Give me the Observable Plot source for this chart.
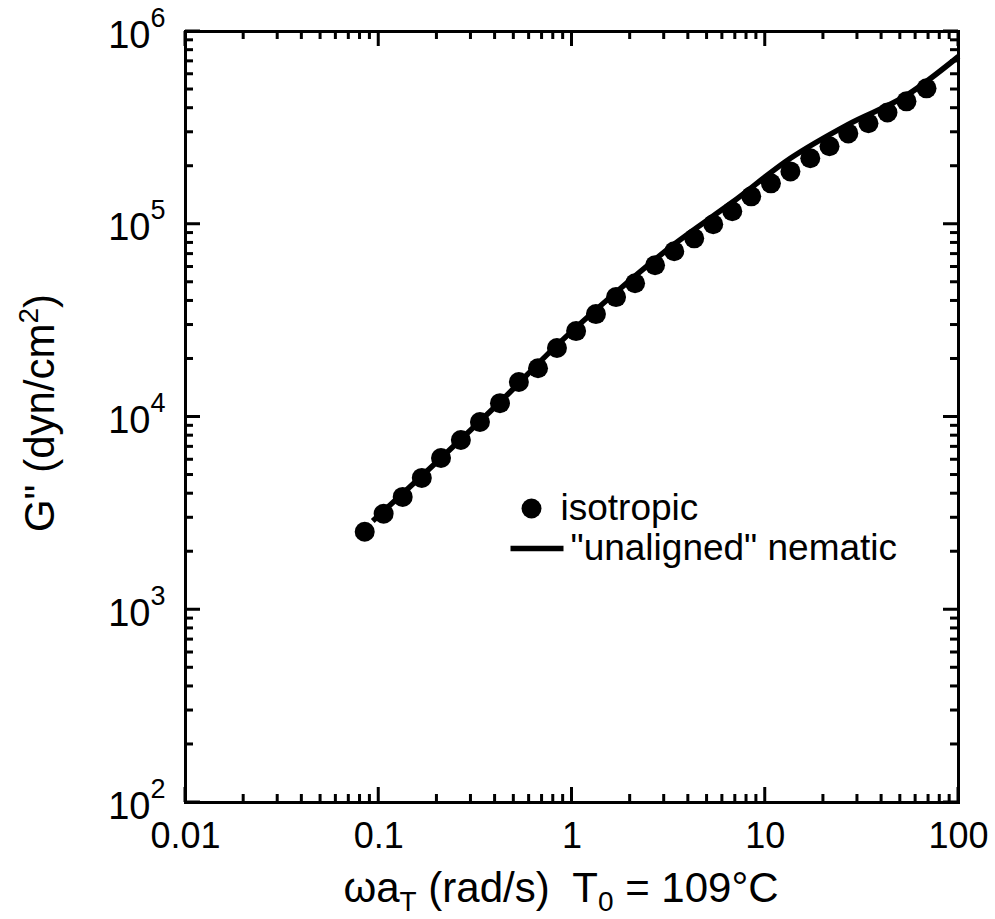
<!DOCTYPE html>
<html>
<head>
<meta charset="utf-8">
<style>
  html, body { margin: 0; padding: 0; background: #fff; }
  #chart { width: 995px; height: 919px; }
</style>
<script src="https://cdn.jsdelivr.net/npm/d3@7"></script>
<script src="https://cdn.jsdelivr.net/npm/@observablehq/plot@0.6"></script>
</head>
<body>
<div id="chart"></div>
<script>
// ---- data ----
const isoFreq = [0.0846, 0.106, 0.133, 0.167, 0.210, 0.266, 0.334, 0.424, 0.531, 0.667,
                 0.836, 1.05, 1.33, 1.69, 2.12, 2.69, 3.38, 4.29, 5.38, 6.75,
                 8.46, 10.7, 13.5, 17.1, 21.5, 26.9, 34.2, 42.9, 53.8, 68.3];
const isoGpp  = [2540, 3150, 3850, 4830, 6130, 7600, 9420, 11800, 15200, 17900,
                 22800, 27900, 34200, 41900, 49400, 61300, 72400, 84500, 100000, 116800,
                 139600, 163000, 188000, 220000, 254000, 296000, 334000, 380000, 434000, 507000];
const nemFreq = [0.0931, 0.210, 0.424, 0.836, 1.69, 3.38, 6.75, 13.5, 26.9, 53.8, 100];
const nemGpp  = [2890, 6130, 11960, 23600, 44400, 78800, 130000, 220000, 330000, 466000, 742000];

const xTickValues = [0.01, 0.1, 1, 10, 100];
const xTickLabels = ["0.01", "0.1", "1", "10", "100"];
const yTickValues = [1e2, 1e3, 1e4, 1e5, 1e6];
const yTickExponents = ["2", "3", "4", "5", "6"];
const legendLabels = ["isotropic", "\"unaligned\" nematic"];

(() => {
  const isoData = isoFreq.map((f, i) => ({f, g: isoGpp[i]}));
  const nemData = nemFreq.map((f, i) => ({f, g: nemGpp[i]}));
  const minorOf = (majors) => majors.slice(0, -1).flatMap(m => d3.range(2, 10).map(k => k * m));
  const xMinor = minorOf(xTickValues);
  const yMinor = minorOf(yTickValues);

  const FONT = "'Liberation Sans', Arial, Helvetica, sans-serif";
  const W = 995, H = 919;
  const mL = 185, mR = 37, mT = 31, mB = 117;
  const PW = W - mL - mR, PH = H - mT - mB;
  const TW = 1.5; // half tick thickness

  // inward ticks on all four sides, drawn as thin filled rects through the scales
  const xTicksOf = (values, len) => [
    Plot.rect(values, { x1: d => d, x2: d => d, insetLeft: -TW, insetRight: -TW, insetTop: PH - len, fill: "black" }),
    Plot.rect(values, { x1: d => d, x2: d => d, insetLeft: -TW, insetRight: -TW, insetBottom: PH - len, fill: "black" })
  ];
  const yTicksOf = (values, len) => [
    Plot.rect(values, { y1: d => d, y2: d => d, insetTop: -TW, insetBottom: -TW, insetRight: PW - len, fill: "black" }),
    Plot.rect(values, { y1: d => d, y2: d => d, insetTop: -TW, insetBottom: -TW, insetLeft: PW - len, fill: "black" })
  ];
  const legendLine = { draw(ctx, l) { ctx.moveTo(0, 0); ctx.lineTo(0, -l); } };

  const svg = Plot.plot({
    width: W, height: H,
    marginLeft: mL, marginRight: mR, marginTop: mT, marginBottom: mB,
    style: { fontFamily: FONT, background: "white", color: "black" },
    x: { type: "log", domain: [0.01, 100], axis: null },
    y: { type: "log", domain: [1e2, 1e6], axis: null },
    marks: [
      // data
      Plot.line(nemData, { x: "f", y: "g", stroke: "black", strokeWidth: 5.5, strokeLinejoin: "round", strokeLinecap: "butt", curve: "monotone-x" }),
      Plot.dot(isoData, { x: "f", y: "g", r: 10, fill: "black", stroke: "none" }),
      // ticks and frame
      ...xTicksOf(xTickValues, 15), ...xTicksOf(xMinor, 8),
      ...yTicksOf(yTickValues, 15), ...yTicksOf(yMinor, 8),
      Plot.frame({ stroke: "black", strokeWidth: 3 }),
      // tick labels
      Plot.text(xTickValues, { x: d => d, frameAnchor: "bottom", text: (d, i) => xTickLabels[i],
        lineAnchor: "bottom", dy: 45, fontSize: 36, fill: "black", textAnchor: "middle" }),
      Plot.text(yTickValues, { y: d => d, frameAnchor: "left", text: () => "10",
        lineAnchor: "bottom", textAnchor: "end", dx: -35, dy: 16, fontSize: 38, fill: "black" }),
      Plot.text(yTickValues, { y: d => d, frameAnchor: "left", text: (d, i) => yTickExponents[i],
        lineAnchor: "bottom", textAnchor: "start", dx: -35, dy: -5, fontSize: 27, fill: "black" }),
      // legend
      Plot.dot([legendLabels[0]], { frameAnchor: "top-left", dx: 531 - mL, dy: 508 - mT, r: 10, fill: "black", stroke: "none" }),
      Plot.text([legendLabels[0]], { frameAnchor: "top-left", text: d => d, dx: 560 - mL, dy: 508 - mT,
        textAnchor: "start", lineAnchor: "middle", fontSize: 37, fill: "black" }),
      Plot.vector([legendLabels[1]], { frameAnchor: "top-left", dx: 510 - mL, dy: 548 - mT, length: 53, rotate: 90,
        anchor: "start", shape: legendLine, stroke: "black", strokeWidth: 5.5, strokeLinecap: "butt" }),
      Plot.text([legendLabels[1]], { frameAnchor: "top-left", text: d => d, dx: 570 - mL, dy: 548 - mT,
        textAnchor: "start", lineAnchor: "middle", fontSize: 37, fill: "black" })
    ]
  });

  document.getElementById("chart").appendChild(svg);

  // axis titles with sub/superscripts
  const s = d3.select(svg);
  const xt = s.append("text")
    .attr("x", 561).attr("y", 902)
    .attr("text-anchor", "middle").attr("font-size", 42).attr("font-family", FONT).attr("fill", "black")
    .style("white-space", "pre");
  xt.append("tspan").text("\u03c9a");
  xt.append("tspan").attr("font-size", 28).attr("dy", 9).text("T");
  xt.append("tspan").attr("dy", -9).text(" (rad/s)  T");
  xt.append("tspan").attr("font-size", 28).attr("dy", 9).text("0");
  xt.append("tspan").attr("dy", -9).text(" = 109\u00b0C");

  const yt = s.append("text")
    .attr("transform", "translate(54,413) rotate(-90)")
    .attr("text-anchor", "middle").attr("font-size", 42).attr("font-family", FONT).attr("fill", "black")
    .style("white-space", "pre");
  yt.append("tspan").text("G\" (dyn/cm");
  yt.append("tspan").attr("font-size", 28).attr("dy", -16).text("2");
  yt.append("tspan").attr("dy", 16).text(")");
})();
</script>
</body>
</html>
